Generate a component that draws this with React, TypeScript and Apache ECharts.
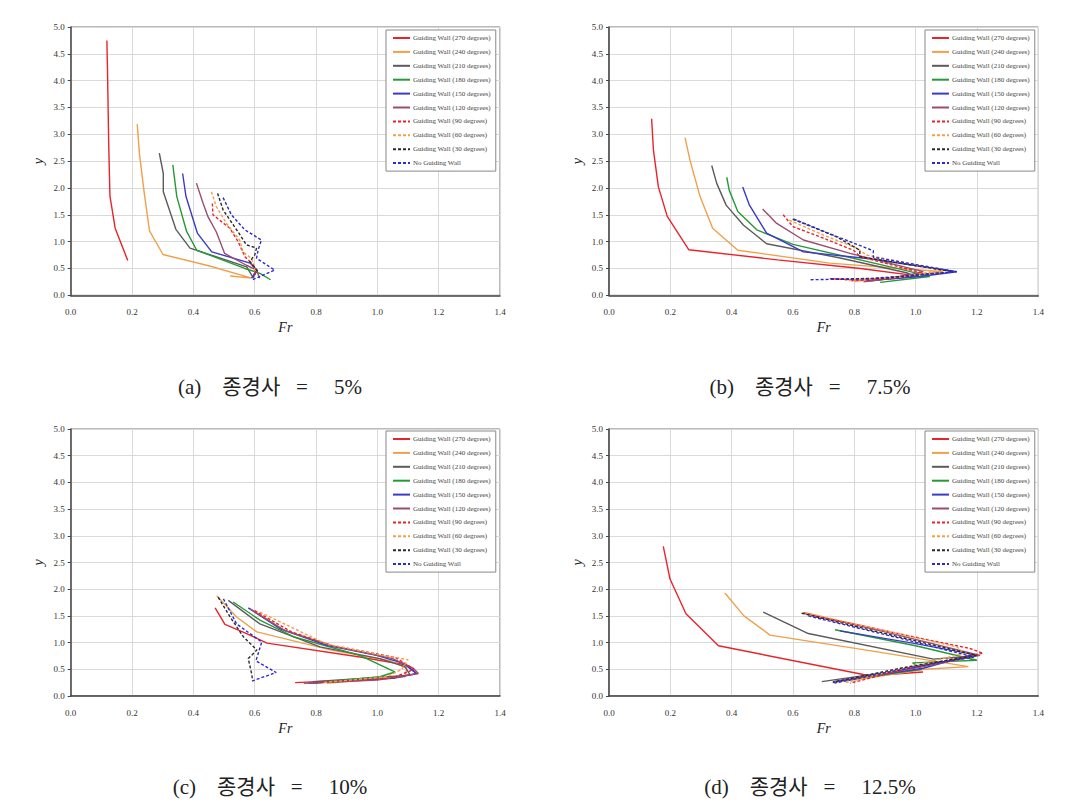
import React, { useEffect, useRef } from "react";
import * as echarts from "echarts";

// ---- series names & tick labels ----
const seriesNames = [
  "Guiding Wall (270 degrees)",
  "Guiding Wall (240 degrees)",
  "Guiding Wall (210 degrees)",
  "Guiding Wall (180 degrees)",
  "Guiding Wall (150 degrees)",
  "Guiding Wall (120 degrees)",
  "Guiding Wall (90 degrees)",
  "Guiding Wall (60 degrees)",
  "Guiding Wall (30 degrees)",
  "No Guiding Wall",
];
const captions = ["(a)    종경사   =     5%", "(b)    종경사   =     7.5%", "(c)    종경사   =     10%", "(d)    종경사   =     12.5%"];
const xTicks = [0.0, 0.2, 0.4, 0.6, 0.8, 1.0, 1.2, 1.4];
const yTicks = [0.0, 0.5, 1.0, 1.5, 2.0, 2.5, 3.0, 3.5, 4.0, 4.5, 5.0];

// ---- (a) slope 5% : [Fr, y] ----
const a270 = [[0.118, 4.75], [0.12, 4.2], [0.122, 3.5], [0.124, 2.8], [0.128, 1.85], [0.145, 1.25], [0.186, 0.65]];
const a240 = [[0.217, 3.19], [0.224, 2.65], [0.24, 1.9], [0.257, 1.2], [0.301, 0.76], [0.45, 0.55], [0.59, 0.32], [0.52, 0.36]];
const a210 = [[0.289, 2.65], [0.302, 2.27], [0.302, 1.93], [0.343, 1.23], [0.389, 0.88], [0.574, 0.53], [0.596, 0.32], [0.6, 0.42]];
const a180 = [[0.333, 2.43], [0.346, 1.84], [0.378, 1.19], [0.411, 0.84], [0.568, 0.5], [0.617, 0.41], [0.652, 0.29]];
const a150 = [[0.365, 2.27], [0.376, 1.84], [0.413, 1.16], [0.46, 0.81], [0.585, 0.6], [0.607, 0.47], [0.59, 0.32]];
const a120 = [[0.41, 2.09], [0.432, 1.71], [0.448, 1.46], [0.475, 1.18], [0.502, 0.78], [0.573, 0.56], [0.606, 0.47], [0.616, 0.32]];
const a90 = [[0.462, 1.71], [0.464, 1.5], [0.519, 1.25], [0.546, 1.0], [0.568, 0.72], [0.584, 0.63], [0.606, 0.47], [0.6, 0.36]];
const a60 = [[0.459, 1.93], [0.475, 1.65], [0.508, 1.34], [0.551, 1.03], [0.562, 0.81], [0.589, 0.69], [0.6, 0.53], [0.6, 0.41]];
const a30 = [[0.479, 1.9], [0.497, 1.59], [0.546, 1.18], [0.573, 0.94], [0.606, 0.88], [0.6, 0.75], [0.584, 0.63], [0.611, 0.44]];
const aNo = [[0.497, 1.82], [0.524, 1.5], [0.568, 1.22], [0.622, 1.03], [0.611, 0.84], [0.606, 0.69], [0.665, 0.47], [0.589, 0.28]];

// ---- (b) slope 7.5% ----
const b270 = [[0.139, 3.29], [0.145, 2.7], [0.161, 2.02], [0.19, 1.47], [0.26, 0.85], [0.55, 0.66], [0.82, 0.5], [0.98, 0.38], [0.86, 0.27], [0.72, 0.31]];
const b240 = [[0.248, 2.94], [0.264, 2.52], [0.297, 1.84], [0.338, 1.25], [0.42, 0.84], [0.72, 0.6], [1.09, 0.44], [0.97, 0.35], [0.8, 0.26]];
const b210 = [[0.335, 2.42], [0.351, 2.09], [0.382, 1.68], [0.438, 1.31], [0.514, 0.96], [0.75, 0.7], [0.97, 0.42], [1.0, 0.35], [0.88, 0.29]];
const b180 = [[0.384, 2.2], [0.392, 1.96], [0.42, 1.56], [0.482, 1.22], [0.6, 0.95], [0.97, 0.46], [1.046, 0.35], [0.884, 0.24]];
const b150 = [[0.436, 2.02], [0.458, 1.68], [0.514, 1.16], [0.634, 0.81], [0.85, 0.68], [1.134, 0.44], [1.014, 0.35], [0.84, 0.27]];
const b120 = [[0.501, 1.61], [0.547, 1.34], [0.634, 1.03], [0.786, 0.78], [1.025, 0.44], [0.95, 0.34], [0.83, 0.25]];
const b90 = [[0.568, 1.5], [0.6, 1.28], [0.688, 1.09], [0.797, 0.84], [0.82, 0.72], [1.025, 0.41], [0.93, 0.32], [0.79, 0.27]];
const b60 = [[0.588, 1.4], [0.7, 1.12], [0.808, 0.88], [0.84, 0.75], [1.09, 0.47], [0.95, 0.34], [0.77, 0.28]];
const b30 = [[0.599, 1.42], [0.742, 1.09], [0.818, 0.84], [0.818, 0.72], [1.123, 0.44], [0.9, 0.32], [0.72, 0.3]];
const bNo = [[0.603, 1.42], [0.732, 1.12], [0.862, 0.83], [0.862, 0.71], [1.134, 0.44], [0.85, 0.31], [0.655, 0.29]];

// ---- (c) slope 10% ----
const c270 = [[0.471, 1.65], [0.503, 1.34], [0.574, 1.17], [0.64, 0.99], [0.943, 0.73], [1.096, 0.58], [1.128, 0.42], [1.03, 0.33], [0.732, 0.25]];
const c240 = [[0.476, 1.88], [0.541, 1.48], [0.607, 1.2], [0.85, 0.86], [1.04, 0.66], [1.096, 0.52], [1.09, 0.36], [0.835, 0.24]];
const c210 = [[0.514, 1.79], [0.617, 1.35], [0.813, 0.92], [1.008, 0.7], [1.09, 0.55], [1.107, 0.39], [0.79, 0.27]];
const c180 = [[0.53, 1.76], [0.617, 1.42], [0.726, 1.11], [0.943, 0.76], [0.998, 0.61], [1.057, 0.45], [1.008, 0.36], [0.79, 0.24]];
const c150 = [[0.579, 1.65], [0.683, 1.26], [0.835, 0.95], [0.998, 0.76], [1.085, 0.61], [1.128, 0.42], [1.052, 0.33], [0.775, 0.24]];
const c120 = [[0.585, 1.63], [0.7, 1.22], [0.86, 0.93], [1.05, 0.7], [1.117, 0.52], [1.134, 0.42], [1.0, 0.3], [0.76, 0.24]];
const c90 = [[0.6, 1.6], [0.72, 1.2], [0.85, 0.95], [1.06, 0.72], [1.12, 0.5], [1.05, 0.34], [0.8, 0.25]];
const c60 = [[0.617, 1.57], [0.835, 0.97], [1.0, 0.78], [1.1, 0.68], [1.08, 0.5], [1.03, 0.36], [0.82, 0.25]];
const c30 = [[0.481, 1.85], [0.52, 1.48], [0.563, 1.11], [0.607, 0.86], [0.579, 0.7], [0.59, 0.42], [0.593, 0.3]];
const cNo = [[0.498, 1.82], [0.541, 1.35], [0.623, 1.01], [0.604, 0.66], [0.67, 0.44], [0.591, 0.28]];

// ---- (d) slope 12.5% ----
const d270 = [[0.177, 2.8], [0.199, 2.19], [0.251, 1.54], [0.357, 0.94], [0.85, 0.38], [1.024, 0.45]];
const d240 = [[0.378, 1.93], [0.44, 1.5], [0.525, 1.14], [0.85, 0.85], [1.172, 0.55], [1.03, 0.5], [0.95, 0.43], [0.8, 0.3]];
const d210 = [[0.503, 1.57], [0.65, 1.17], [1.058, 0.69], [1.19, 0.75], [0.95, 0.48], [0.694, 0.27]];
const d180 = [[0.737, 1.24], [1.0, 0.94], [1.2, 0.67], [0.99, 0.62], [1.02, 0.5], [0.73, 0.26]];
const d150 = [[0.753, 1.22], [1.0, 0.98], [1.188, 0.78], [1.025, 0.52], [0.732, 0.27]];
const d120 = [[0.634, 1.56], [0.9, 1.2], [1.21, 0.76], [1.025, 0.55], [0.73, 0.25]];
const d90 = [[0.634, 1.55], [1.0, 1.1], [1.177, 0.89], [1.22, 0.8], [1.17, 0.75], [1.0, 0.55], [0.786, 0.24]];
const d60 = [[0.64, 1.56], [1.134, 0.92], [1.16, 0.8], [1.0, 0.58], [0.77, 0.25]];
const d30 = [[0.628, 1.55], [0.95, 1.1], [1.199, 0.76], [0.95, 0.52], [0.73, 0.26]];
const dNo = [[0.65, 1.5], [0.95, 1.08], [1.19, 0.73], [1.0, 0.55], [0.735, 0.24]];

const panelData = [
  [a270, a240, a210, a180, a150, a120, a90, a60, a30, aNo],
  [b270, b240, b210, b180, b150, b120, b90, b60, b30, bNo],
  [c270, c240, c210, c180, c150, c120, c90, c60, c30, cNo],
  [d270, d240, d210, d180, d150, d120, d90, d60, d30, dNo],
];

const colors = ["#e8232b", "#f0a04a", "#5b5b5b", "#249a35", "#3a3acb", "#9b4d6e", "#e8232b", "#f0a04a", "#2a2a2a", "#2b2bcc"];
const dashed = [false, false, false, false, false, false, true, true, true, true];

const SERIF = "'Liberation Serif', 'Times New Roman', serif";

export default function App() {
  const ref = useRef<HTMLDivElement>(null);
  useEffect(() => {
    if (!ref.current) return;
    const chart = echarts.init(ref.current, undefined, { renderer: "svg" });
    const grids = [
      { left: 70.7, top: 27, width: 429.3, height: 268.3 },
      { left: 609, top: 27, width: 429.3, height: 268.3 },
      { left: 70.7, top: 429, width: 429.3, height: 267 },
      { left: 609, top: 429, width: 429.3, height: 267 },
    ];
    const legendPos = [
      { left: 386, top: 30 },
      { left: 925, top: 30 },
      { left: 386, top: 431 },
      { left: 925, top: 431 },
    ];
    const captionPos = [
      { x: 270, y: 387 },
      { x: 810, y: 387 },
      { x: 270, y: 787 },
      { x: 810, y: 787 },
    ];
    const series: any[] = [];
    panelData.forEach((curves, p) => {
      curves.forEach((pts, i) => {
        series.push({
          type: "line",
          name: seriesNames[i],
          xAxisIndex: p,
          yAxisIndex: p,
          data: pts,
          showSymbol: false,
          symbol: "none",
          smooth: false,
          lineStyle: { color: colors[i], width: 1.4, type: dashed[i] ? [3, 2] : "solid" },
          itemStyle: { color: colors[i] },
        });
      });
    });
    const option: any = {
      animation: false,
      backgroundColor: "#ffffff",
      grid: grids.map((g) => ({ ...g, show: true, borderColor: "#777", borderWidth: 1, containLabel: false })),
      xAxis: grids.map((_, p) => ({
        type: "value",
        gridIndex: p,
        min: xTicks[0],
        max: xTicks[xTicks.length - 1],
        interval: 0.2,
        name: "Fr",
        nameLocation: "middle",
        nameGap: 25,
        nameTextStyle: { fontFamily: SERIF, fontStyle: "italic", fontSize: 14, color: "#222" },
        axisLine: { lineStyle: { color: "#444", width: 1.5 } },
        axisTick: { show: false },
        axisLabel: { fontFamily: SERIF, fontSize: 9, color: "#333", margin: 12, formatter: (v: number) => v.toFixed(1) },
        splitLine: { show: true, lineStyle: { color: "#d9d9d9", width: 1 } },
      })),
      yAxis: grids.map((_, p) => ({
        type: "value",
        gridIndex: p,
        min: yTicks[0],
        max: yTicks[yTicks.length - 1],
        interval: 0.5,
        name: "y",
        nameLocation: "middle",
        nameGap: 25,
        nameTextStyle: { fontFamily: SERIF, fontStyle: "italic", fontSize: 14, color: "#222" },
        axisLine: { show: true, lineStyle: { color: "#444", width: 1.5 } },
        axisTick: { show: true, length: 3, lineStyle: { color: "#444" } },
        axisLabel: { fontFamily: SERIF, fontSize: 9, color: "#333", margin: 6, formatter: (v: number) => v.toFixed(1) },
        splitLine: { show: true, lineStyle: { color: "#d9d9d9", width: 1 } },
      })),
      legend: legendPos.map((lp) => ({
        ...lp,
        orient: "vertical",
        data: seriesNames,
        itemWidth: 17,
        itemHeight: 8,
        itemGap: 5.9,
        padding: [4, 5, 4, 6],
        borderColor: "#888",
        borderWidth: 1,
        backgroundColor: "#fff",
        selectedMode: false,
        itemStyle: { opacity: 0 },
        textStyle: { fontFamily: SERIF, fontSize: 7, color: "#444", lineHeight: 8, padding: [0, 0, 0, -2] },
      })),
      graphic: captionPos.map((c, p) => ({
        type: "text",
        x: c.x,
        y: c.y,
        style: {
          text: captions[p],
          fontFamily: "'Liberation Serif', 'Noto Sans CJK KR', serif",
          fontSize: 21,
          fill: "#222",
          textAlign: "center",
          textVerticalAlign: "middle",
        },
      })),
      series,
    };
    chart.setOption(option);
    return () => chart.dispose();
  }, []);
  return <div ref={ref} style={{ position: "fixed", left: 0, top: 0, width: 1067, height: 811, background: "#fff" }} />;
}
